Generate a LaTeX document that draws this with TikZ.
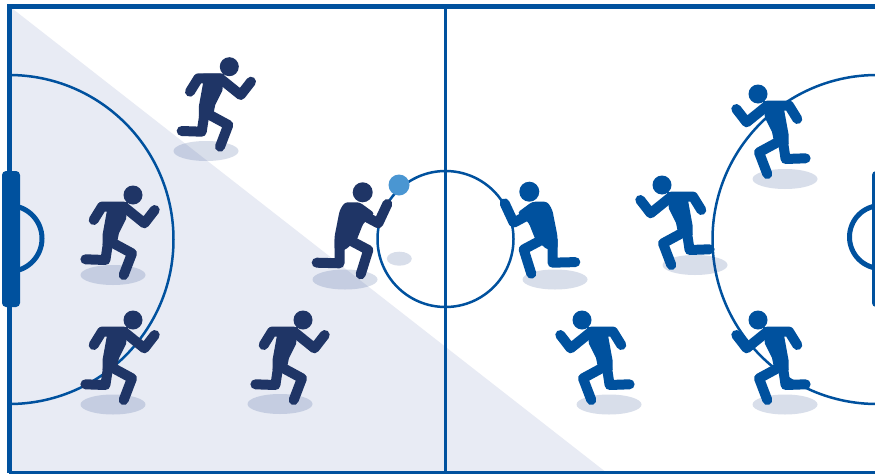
\documentclass[tikz,border=0pt]{standalone}
\definecolor{navy}{HTML}{1F3566}
\definecolor{pitchblue}{HTML}{00519E}
\definecolor{shadecol}{HTML}{E8EBF4}
\definecolor{ballblue}{HTML}{4A96D2}
\definecolor{shadowtint}{HTML}{2B4A8C}
\tikzset{
  limb/.style={line width=10pt,line cap=round,line join=round},
  pline/.style={draw=pitchblue,line width=2.5pt},
  goalbar/.style={fill=pitchblue,rounded corners=4pt},
  goalarc/.style={draw=pitchblue,line width=5pt},
  groundshadow/.style={fill=shadowtint,fill opacity=.18},
  runner/.pic={
    \fill (0,0) circle (9.5);
    \fill (-26,7) -- (-5,7) -- (-7,24) -- (-14,38) -- (-17,52) -- (-30.5,50) -- (-30.5,40) -- (-26.5,18) -- cycle;
    \draw[limb] (-39.3,25) -- (-31,11.6) -- (-9.3,11.6) -- (11.4,28.3) -- (21.7,15);
    \draw[limb] (-24.3,43.3) -- (-27.6,65) -- (-47.6,64.3);
    \draw[limb] (-22.6,46.6) -- (-1,58.3) -- (-9.3,80);
  },
  kneeler/.pic={
    \fill (0,0) circle (10);
    \fill[rounded corners=3pt] (-23,18) -- (-18,10) -- (-3,10) -- (12,21) -- (0.6,31) -- (-6,47.7) -- (-18,58) -- (-28.2,58) -- (-28.2,44.4) -- cycle;
    \draw[limb] (-23.2,47.7) -- (-23.2,71) -- (-46,70.4);
    \draw[limb] (-19.4,44.4) -- (5.6,57.7) -- (-2,82);
    \draw[limb] (-6,19.4) -- (15.6,31) -- (24.6,11.7);
  },
}
\begin{document}
\begin{tikzpicture}[x=1pt,y=-1pt]
\useasboundingbox (0,0) rectangle (875,474);
\clip (0,0) rectangle (875,474);
\fill[white] (0,0) rectangle (875,474);
% shaded half
\fill[shadecol] (9,6) -- (607,473) -- (9,473) -- cycle;
% pitch markings
\draw[pline] (9,75) arc[start angle=-90,end angle=90,radius=164.5];
\draw[pline] (877,75) arc[start angle=-90,end angle=-270,radius=164.5];
\draw[pline] (445.5,6) -- (445.5,473);
\draw[pline] (445.5,239) circle (68);
\draw[draw=pitchblue,line width=3pt] (9,472.5) -- (875,472.5);
\draw[draw=pitchblue,line width=5pt] (875,6.5) -- (9,6.5) -- (9,473);
% goals
\draw[goalarc] (9,205.5) arc[start angle=-90,end angle=90,radius=33];
\draw[goalarc] (881,205.5) arc[start angle=-90,end angle=-270,radius=31.5];
\fill[goalbar] (2,171) rectangle (20,307);
\fill[goalbar] (872,171) rectangle (892,307);
% shadows
\foreach \sx/\sy in {206/151,113/275,345/279.5,113/404.5,280/404,555/279.5,785/179,695/265,609/404.5,785/404.5}
  \fill[groundshadow] (\sx,\sy) ellipse [x radius=32.5,y radius=10];
\fill[groundshadow] (399.3,258.7) ellipse [x radius=12.5,y radius=7];
% dark team
\pic[color=navy] at (229.3,66.7) {runner};
\pic[color=navy] at (133,195) {runner};
\pic[color=navy] at (133,320) {runner};
\pic[color=navy] at (303,320) {runner};
\pic[color=navy] at (362.7,192.3) {kneeler};
% blue team
\pic[color=pitchblue,xscale=-1] at (529.3,191.7) {kneeler};
\pic[color=pitchblue,xscale=-1] at (758,94) {runner};
\pic[color=pitchblue,xscale=-1] at (662,185) {runner};
\pic[color=pitchblue,xscale=-1] at (582,320) {runner};
\pic[color=pitchblue,xscale=-1] at (758,320) {runner};
% ball
\fill[ballblue] (399,185) circle (10.5);
\end{tikzpicture}
\end{document}
